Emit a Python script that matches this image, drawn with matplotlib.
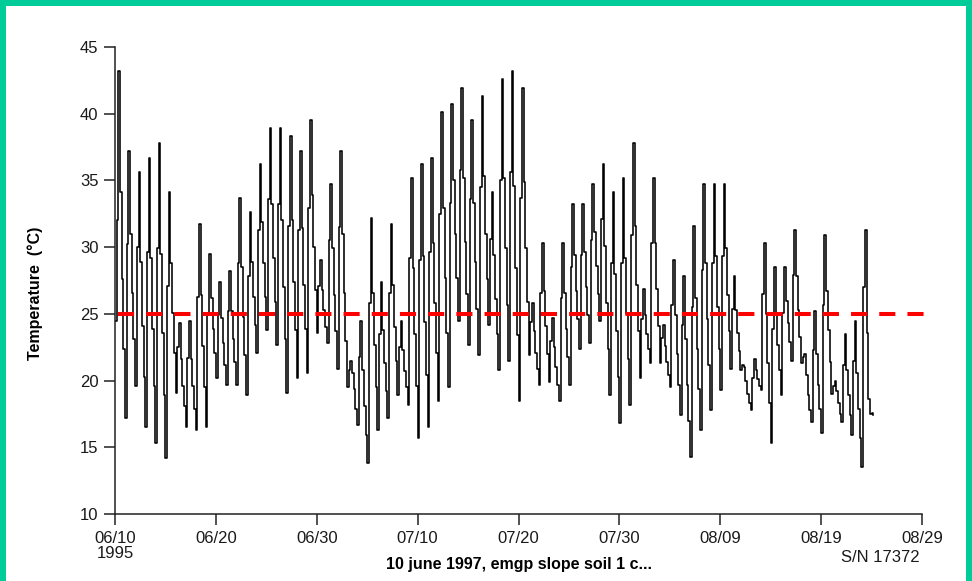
import matplotlib
matplotlib.use("Agg")
import matplotlib.pyplot as plt
from matplotlib.patches import Rectangle

plt.rcParams['font.family'] = ['Liberation Sans', 'DejaVu Sans']

# readings: 6 per day (every 4 h), starting 06/10
daily_readings = [
    [24.5, 32.0, 43.2, 34.1, 27.6, 22.4],
    [17.2, 30.2, 37.2, 31.0, 26.6, 23.1],
    [19.6, 30.0, 35.6, 28.9, 24.1, 20.3],
    [16.5, 29.6, 36.7, 29.2, 23.9, 19.6],
    [15.3, 29.9, 37.8, 29.5, 23.6, 18.9],
    [14.2, 27.1, 34.1, 28.8, 25.1, 22.1],
    [19.1, 22.5, 24.3, 21.6, 19.6, 18.1],
    [16.5, 21.7, 24.5, 21.6, 19.6, 17.9],
    [16.3, 26.3, 31.7, 26.4, 22.6, 19.5],
    [16.5, 25.0, 29.5, 26.2, 23.9, 22.1],
    [20.2, 24.9, 27.4, 24.7, 22.8, 21.2],
    [19.7, 25.2, 28.2, 25.2, 23.1, 21.4],
    [19.7, 28.8, 33.7, 28.5, 24.8, 21.9],
    [18.9, 27.8, 32.6, 28.9, 26.3, 24.2],
    [22.1, 31.3, 36.2, 31.9, 28.8, 26.3],
    [23.8, 33.6, 38.9, 33.2, 29.2, 25.9],
    [22.7, 33.2, 38.9, 32.0, 27.0, 23.1],
    [19.1, 31.6, 38.3, 32.0, 27.4, 23.8],
    [20.2, 31.3, 37.2, 31.4, 27.2, 23.9],
    [20.6, 32.9, 39.5, 33.9, 30.0, 26.8],
    [23.6, 27.1, 29.0, 26.8, 25.3, 24.0],
    [22.8, 30.5, 34.7, 29.9, 26.4, 23.7],
    [20.9, 31.5, 37.2, 31.0, 26.6, 23.0],
    [19.5, 20.8, 21.5, 20.6, 19.4, 17.9],
    [16.7, 21.8, 24.5, 20.8, 18.1, 15.9],
    [13.8, 25.8, 32.2, 26.6, 22.7, 19.5],
    [16.3, 23.5, 27.4, 23.8, 21.3, 19.2],
    [17.2, 26.6, 31.7, 27.2, 24.0, 21.5],
    [18.9, 22.5, 24.5, 22.3, 20.7, 19.5],
    [18.2, 29.2, 35.2, 28.4, 23.5, 19.6],
    [15.7, 29.0, 36.2, 29.3, 24.4, 20.4],
    [16.5, 29.6, 36.7, 30.3, 25.8, 22.1],
    [18.5, 32.5, 40.1, 32.9, 27.7, 23.6],
    [19.5, 33.3, 40.7, 35.0, 31.0, 27.7],
    [24.5, 35.8, 41.9, 35.2, 30.4, 26.5],
    [22.7, 33.6, 39.5, 33.3, 28.9, 25.4],
    [21.9, 34.5, 41.3, 35.3, 31.0, 27.6],
    [24.2, 30.6, 34.1, 29.4, 26.1, 23.5],
    [20.8, 35.0, 42.6, 35.2, 29.9, 25.7],
    [21.5, 35.6, 43.2, 34.6, 28.4, 23.4],
    [18.5, 33.7, 41.9, 34.9, 29.9, 25.9],
    [21.9, 24.4, 25.8, 23.7, 22.1, 20.9],
    [19.7, 26.6, 30.3, 26.7, 24.1, 22.0],
    [19.9, 23.0, 24.7, 22.5, 21.0, 19.7],
    [18.5, 26.2, 30.3, 26.6, 23.9, 21.8],
    [19.7, 28.5, 33.2, 29.4, 26.7, 24.6],
    [22.4, 29.4, 33.2, 29.6, 27.0, 24.9],
    [22.8, 30.5, 34.7, 31.1, 28.6, 26.5],
    [24.5, 32.1, 36.2, 30.1, 25.8, 22.4],
    [18.9, 28.8, 34.1, 28.0, 23.7, 20.3],
    [16.8, 28.8, 35.2, 29.2, 25.0, 21.6],
    [18.2, 30.9, 37.8, 31.6, 27.2, 23.7],
    [20.2, 24.6, 26.9, 24.9, 23.5, 22.4],
    [21.3, 30.3, 35.2, 30.3, 26.9, 24.1],
    [21.3, 23.2, 24.2, 22.6, 21.4, 20.4],
    [19.5, 25.7, 29.0, 24.9, 22.0, 19.7],
    [17.4, 24.2, 27.8, 23.1, 19.7, 17.0],
    [14.3, 25.5, 31.6, 26.2, 22.4, 19.4],
    [16.3, 28.3, 34.7, 28.8, 24.6, 21.2],
    [17.8, 28.8, 34.7, 29.3, 25.5, 22.4],
    [19.3, 29.3, 34.7, 29.9, 26.4, 23.7],
    [20.9, 25.4, 27.8, 25.3, 23.6, 22.2],
    [20.8, 21.2, 21.0, 20.0, 19.0, 18.3],
    [17.8, 20.2, 21.6, 20.8, 20.1, 19.6],
    [19.3, 26.5, 30.3, 25.0, 21.3, 18.3],
    [15.3, 23.9, 28.5, 25.1, 22.7, 20.8],
    [18.9, 25.1, 28.5, 26.0, 24.3, 22.9],
    [21.5, 27.9, 31.3, 27.8, 25.3, 23.3],
    [21.3, 21.8, 22.0, 20.4, 18.9, 17.8],
    [16.9, 22.3, 25.2, 22.0, 19.7, 17.9],
    [16.1, 25.7, 30.9, 26.7, 23.8, 21.4],
    [19.0, 19.6, 20.0, 19.2, 18.3, 17.5],
    [16.9, 21.2, 23.5, 20.8, 18.9, 17.4],
    [15.9, 21.5, 24.5, 20.6, 17.9, 15.7],
    [13.5, 27.0, 31.3, 23.6, 18.6, 17.5],
    [17.6, 17.4],
]
readings_per_day = 6
threshold = 25.0
threshold_span = [0.3, 81.3]

x_ticks = [0, 10, 20, 30, 40, 50, 60, 70, 80]
x_tick_labels = ["06/10\n1995", "06/20", "06/30", "07/10", "07/20",
                 "07/30", "08/09", "08/19", "08/29"]
y_ticks = [10, 15, 20, 25, 30, 35, 40, 45]

t, v = [], []
for d, day in enumerate(daily_readings):
    for k, val in enumerate(day):
        t.append(d + k / readings_per_day)
        v.append(val)

W, H = 972, 581
fig = plt.figure(figsize=(W / 100, H / 100), dpi=100)
fig.patch.set_facecolor('#00cc99')
fig.patches.append(Rectangle((6 / W, 0), (966 - 6) / W, (H - 6) / H,
                             transform=fig.transFigure, facecolor='white',
                             edgecolor='none', zorder=-100))

ax = fig.add_axes([115 / W, 1 - 514 / H, (922 - 115) / W, (514 - 47) / H])
ax.set_facecolor('none')
ax.step(t, v, where='post', color='black', lw=1.15, zorder=2)
ax.plot(threshold_span, [threshold, threshold], color='#ff0000', lw=2.9,
        dashes=(4, 3), zorder=3, clip_on=False, solid_capstyle='butt',
        dash_capstyle='butt')

ax.set_xlim(0, 80)
ax.set_ylim(10, 45)
ax.set_xticks(x_ticks)
ax.set_xticklabels(x_tick_labels, linespacing=1.0)
ax.set_yticks(y_ticks)
ax.set_yticklabels([str(y) for y in y_ticks])
for s in ['top', 'right']:
    ax.spines[s].set_visible(False)
for s in ['left', 'bottom']:
    ax.spines[s].set_linewidth(1.1)
    ax.spines[s].set_color('#222222')
ax.tick_params(axis='both', direction='out', length=8, width=1.1,
               color='#222222', labelsize=12, labelcolor='#1a1a1a')
ax.tick_params(axis='x', pad=4)
ax.tick_params(axis='y', pad=4)

ax.set_xlabel("10 june 1997, emgp slope soil 1 c...", fontsize=11.5,
              fontweight='bold', labelpad=-3)
fig.text(35 / W, 1 - 293 / H, "Temperature  (°C)", rotation=90,
         fontsize=11.5, fontweight='bold', ha='center', va='center')
fig.text(920 / W, 1 - 558 / H, "S/N 17372", fontsize=12, ha='right',
         va='center', color='#1a1a1a')

fig.savefig("out.png", dpi=100, facecolor=fig.get_facecolor())
